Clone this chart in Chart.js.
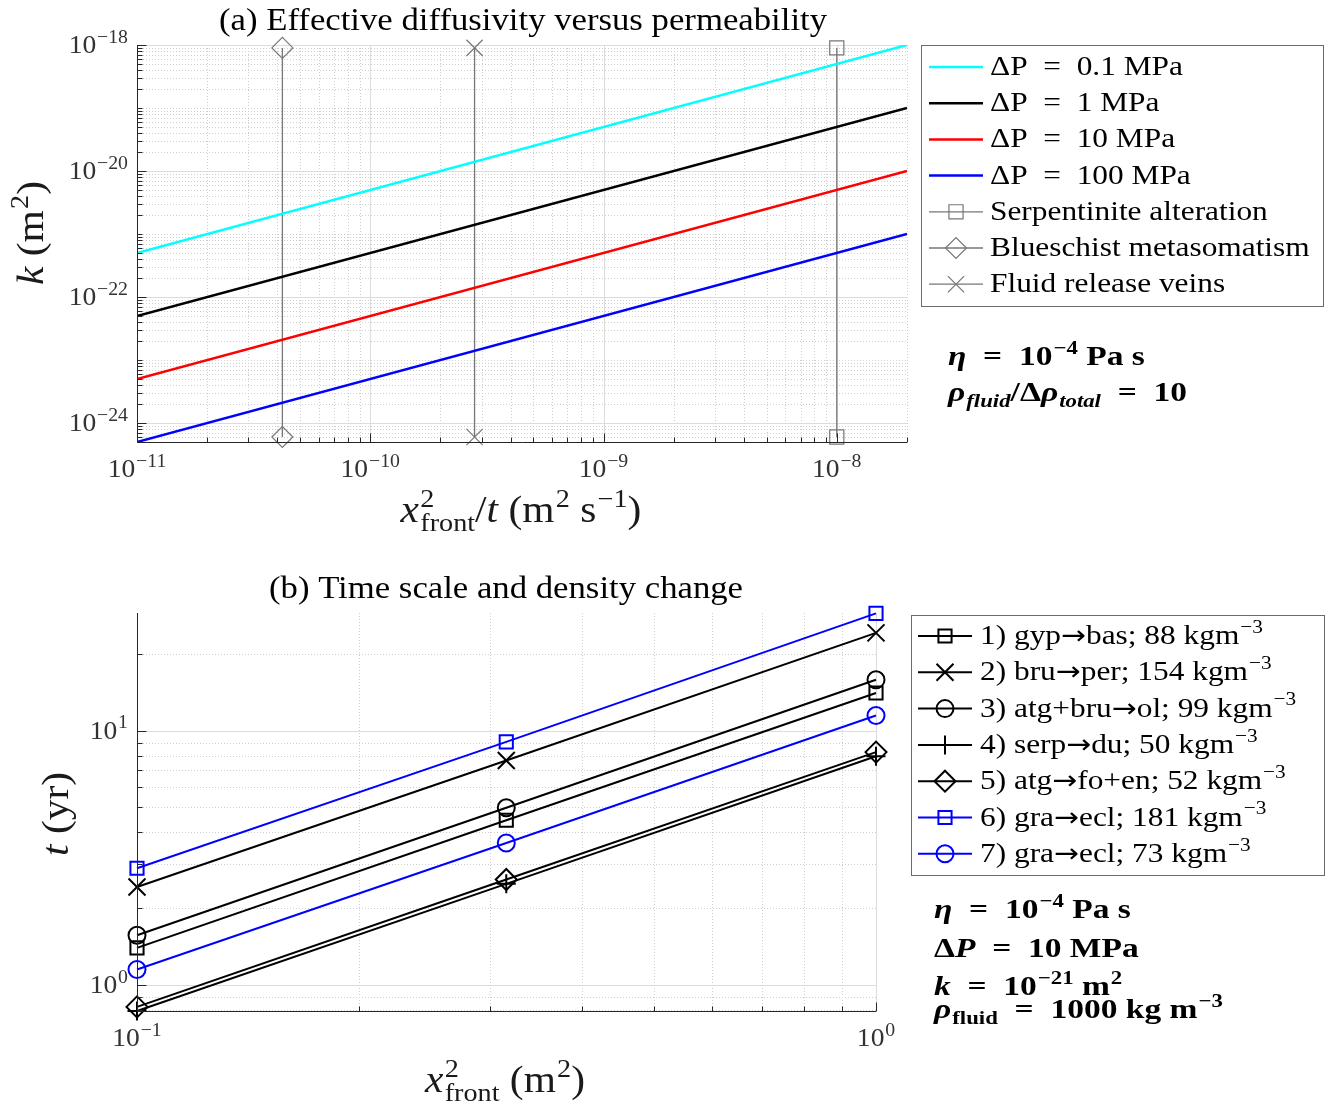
<!DOCTYPE html>
<html>
<head>
<meta charset="utf-8">
<title>Effective diffusivity and time scale</title>
<script src="https://cdn.jsdelivr.net/npm/chart.js@4.4.1/dist/chart.umd.min.js"></script>
<style>
  html, body { margin: 0; padding: 0; background: #fff; }
  #page { position: relative; width: 1328px; height: 1102px; overflow: hidden; }
  canvas { position: absolute; left: 0; }
</style>
</head>
<body>
<div id="page">
  <canvas id="diffusivityChart" width="1328" height="560" style="top:0"></canvas>
  <canvas id="timeChart" width="1328" height="542" style="top:560px"></canvas>
</div>
<script>
// ---- panel (a): permeability vs effective diffusivity ----
const diffusivity = [1e-11, 2e-8];          // x^2_front / t  (m^2 s^-1)
const kPoint1MPa = [5e-22, 1e-18];
const kOneMPa = [5e-23, 1e-19];
const kTenMPa = [5e-24, 1e-20];
const kHundredMPa = [5e-25, 1e-21];
const pressureLabels = ['ΔP  =  0.1 MPa', 'ΔP  =  1 MPa', 'ΔP  =  10 MPa', 'ΔP  =  100 MPa'];
const processLabels = ['Serpentinite alteration', 'Blueschist metasomatism', 'Fluid release veins'];
const processDiffusivity = [1e-8, 4.2e-11, 2.8e-10];
const processK = [9e-19, 6e-25];            // ends of the vertical marker lines
const aXTickValues = [1e-11, 1e-10, 1e-9, 1e-8];
const aXTickLabels = ['10^{−11}', '10^{−10}', '10^{−9}', '10^{−8}'];
const aYTickValues = [1e-24, 1e-22, 1e-20, 1e-18];
const aYTickLabels = ['10^{−24}', '10^{−22}', '10^{−20}', '10^{−18}'];

// ---- panel (b): time scale vs x^2_front ----
const frontSquared = [0.1, 0.316, 1];
const tGypBas = [1.40, 4.45, 14.1];
const tBruPer = [2.43, 7.65, 24.3];
const tAtgBruOl = [1.57, 4.98, 15.9];
const tSerpDu = [0.79, 2.50, 7.95];
const tAtgFoEn = [0.82, 2.60, 8.25];
const tGraEcl181 = [2.88, 9.05, 29.0];
const tGraEcl73 = [1.15, 3.62, 11.5];
const reactionLabels = [
  '1) gyp→bas; 88 kgm^{−3}',
  '2) bru→per; 154 kgm^{−3}',
  '3) atg+bru→ol; 99 kgm^{−3}',
  '4) serp→du; 50 kgm^{−3}',
  '5) atg→fo+en; 52 kgm^{−3}',
  '6) gra→ecl; 181 kgm^{−3}',
  '7) gra→ecl; 73 kgm^{−3}'
];
const bXTickValues = [0.1, 1];
const bXTickLabels = ['10^{−1}', '10^{0}'];
const bYTickValues = [1, 10];
const bYTickLabels = ['10^{0}', '10^{1}'];

const SERIF = '"Liberation Serif", "DejaVu Serif", serif';
const ARROW_FONT = '"DejaVu Sans", sans-serif';
const STRETCH = 1.12;

// tiny markup: $..$ italic, ^{..} superscript, _{..} subscript
function parseRich(str) {
  const out = [];
  let italic = false, buf = '', i = 0;
  const push = (t, kind) => { if (t) out.push({ t, kind, italic }); };
  while (i < str.length) {
    const c = str[i];
    if (c === '$') { push(buf, 'n'); buf = ''; italic = !italic; i++; }
    else if ((c === '^' || c === '_') && str[i + 1] === '{') {
      push(buf, 'n'); buf = '';
      const end = str.indexOf('}', i);
      push(str.slice(i + 2, end), c === '^' ? 'sup' : 'sub');
      i = end + 1;
    } else { buf += c; i++; }
  }
  push(buf, 'n');
  return out;
}

function drawRich(ctx, str, x, y, o) {
  const size = o.size, stretch = o.stretch || 1, weight = o.bold ? 'bold ' : '';
  const supScale = o.supScale || 0.68;
  const items = [];
  let cursor = 0, prev = 'n', scriptStart = 0;
  for (const p of parseRich(str)) {
    const s = p.kind === 'n' ? size : size * supScale;
    let px = cursor;
    if (p.kind !== 'n') {
      if (prev !== 'n' && prev !== p.kind) px = scriptStart;
      else scriptStart = cursor + size * 0.03;
      px = scriptStart;
    }
    const dy = p.kind === 'sup' ? -0.4 * size : p.kind === 'sub' ? 0.24 * size : 0;
    let end = px;
    p.t.split(/(→)/).forEach(piece => {
      if (!piece) return;
      const font = piece === '→'
        ? (s * 0.95).toFixed(1) + 'px ' + ARROW_FONT
        : (p.italic ? 'italic ' : '') + weight + s.toFixed(1) + 'px ' + SERIF;
      ctx.font = font;
      items.push({ t: piece, font, px: end, dy });
      end += ctx.measureText(piece).width;
    });
    cursor = Math.max(cursor, end);
    prev = p.kind;
  }
  const total = cursor * stretch;
  const x0 = o.align === 'center' ? x - total / 2 : o.align === 'right' ? x - total : x;
  ctx.save();
  ctx.translate(x0, y);
  ctx.scale(stretch, 1);
  ctx.fillStyle = o.color || '#000';
  ctx.textAlign = 'left';
  ctx.textBaseline = 'alphabetic';
  items.forEach(it => { ctx.font = it.font; ctx.fillText(it.t, it.px, it.dy); });
  ctx.restore();
  return total;
}

function logGrid(min, max) {
  const vals = [];
  for (let e = Math.floor(Math.log10(min)); e <= Math.ceil(Math.log10(max)); e++) {
    for (let m = 1; m <= 9; m++) {
      const v = m * Math.pow(10, e);
      if (v >= min * 0.9999 && v <= max * 1.0001) vals.push(v);
    }
  }
  return vals;
}
const isListed = (v, list) => list.some(t => Math.abs(v / t - 1) < 1e-6);

const tickFont = { size: 26, stretch: 1.06, supScale: 0.72, color: '#333' };

// grid, inward ticks, tick labels, titles, legend and notes drawn from the chart's scales
function panelDecor(p) {
  return {
    id: 'panelDecor',
    beforeDatasetsDraw(chart) {
      const { ctx, chartArea: a, scales: { x, y } } = chart;
      ctx.save();
      ctx.lineWidth = 1;
      logGrid(x.min, x.max).forEach(v => {
        const major = isListed(v, p.xTicks);
        const px = Math.round(x.getPixelForValue(v)) + 0.5;
        ctx.strokeStyle = major ? '#dcdcdc' : '#cfcfcf';
        ctx.setLineDash(major ? [] : [1, 2]);
        ctx.beginPath(); ctx.moveTo(px, a.top); ctx.lineTo(px, a.bottom); ctx.stroke();
      });
      logGrid(y.min, y.max).forEach(v => {
        const major = isListed(v, p.yTicks);
        const py = Math.round(y.getPixelForValue(v)) + 0.5;
        ctx.strokeStyle = major ? '#dcdcdc' : '#cfcfcf';
        ctx.setLineDash(major ? [] : [1, 2]);
        ctx.beginPath(); ctx.moveTo(a.left, py); ctx.lineTo(a.right, py); ctx.stroke();
      });
      ctx.restore();
    },
    afterDatasetsDraw(chart) {
      const { ctx, chartArea: a, scales: { x, y } } = chart;
      ctx.save();
      ctx.strokeStyle = '#262626';
      ctx.lineWidth = 1;
      const L = Math.round(a.left) + 0.5, B = Math.round(a.bottom) + 0.5;
      ctx.beginPath();
      ctx.moveTo(L, a.top); ctx.lineTo(L, B); ctx.lineTo(a.right, B);
      logGrid(x.min, x.max).forEach(v => {
        const px = Math.round(x.getPixelForValue(v)) + 0.5;
        ctx.moveTo(px, B); ctx.lineTo(px, B - (isListed(v, p.xTicks) ? 9 : 5));
      });
      logGrid(y.min, y.max).forEach(v => {
        const py = Math.round(y.getPixelForValue(v)) + 0.5;
        ctx.moveTo(L, py); ctx.lineTo(L + (isListed(v, p.yTicks) ? 9 : 5), py);
      });
      ctx.stroke();
      p.xTicks.forEach((v, i) => {
        drawRich(ctx, p.xLabels[i], x.getPixelForValue(v), a.bottom + 35, Object.assign({ align: 'center' }, tickFont));
      });
      p.yTicks.forEach((v, i) => {
        drawRich(ctx, p.yLabels[i], a.left - 9, y.getPixelForValue(v) + 8, Object.assign({ align: 'right' }, tickFont));
      });
      ctx.restore();
    },
    afterDraw(chart) {
      const ctx = chart.ctx;
      ctx.save();
      ctx.translate(0, -p.top);
      drawRich(ctx, p.title[0], p.title[1], p.title[2], { size: 31, align: 'center', stretch: STRETCH });
      drawRich(ctx, p.xTitle[0], p.xTitle[1], p.xTitle[2], { size: 37, align: 'center', stretch: STRETCH, color: '#1a1a1a' });
      ctx.save();
      ctx.translate(p.yTitle[1], p.yTitle[2]);
      ctx.rotate(-Math.PI / 2);
      drawRich(ctx, p.yTitle[0], 0, 0, { size: 37, align: 'center', stretch: STRETCH, color: '#1a1a1a' });
      ctx.restore();

      // legend
      const lg = p.legend;
      ctx.fillStyle = '#fff';
      ctx.fillRect(lg.x, lg.y, lg.w, lg.h);
      ctx.strokeStyle = '#6b6b6b';
      ctx.lineWidth = 1;
      ctx.strokeRect(lg.x + 0.5, lg.y + 0.5, lg.w, lg.h);
      chart.data.datasets.forEach((ds, i) => {
        const ry = lg.row0 + i * lg.step;
        ctx.strokeStyle = ds.borderColor;
        ctx.lineWidth = ds.borderWidth;
        ctx.beginPath(); ctx.moveTo(lg.lineX0, ry); ctx.lineTo(lg.lineX1, ry); ctx.stroke();
        if (ds.pointRadius > 0) {
          ctx.fillStyle = 'rgba(0,0,0,0)';
          ctx.lineWidth = ds.pointBorderWidth;
          Chart.helpers.drawPoint(ctx, { pointStyle: ds.pointStyle, radius: ds.pointRadius, rotation: 0, borderWidth: ds.pointBorderWidth }, (lg.lineX0 + lg.lineX1) / 2, ry);
        }
        drawRich(ctx, ds.label, lg.textX, ry + 8, { size: 28, stretch: STRETCH });
      });

      p.notes.forEach(n => drawRich(ctx, n[0], n[1], n[2], { size: 27, bold: true, stretch: 1.24 }));
      ctx.restore();
    }
  };
}

const logAxis = (min, max) => ({
  type: 'logarithmic', min, max,
  ticks: { display: false },
  grid: { display: false, drawTicks: false, tickLength: 0 },
  border: { display: false },
  title: { display: false }
});

// ---- chart (a) ----
const kSeries = [kPoint1MPa, kOneMPa, kTenMPa, kHundredMPa];
const pressureColors = ['#00ffff', '#000000', '#ff0000', '#0000ff'];
const processMarkers = [['rect', 10], ['rectRot', 10.5], ['crossRot', 11.5]];

const diffusivitySets = kSeries.map((ks, i) => ({
  label: pressureLabels[i],
  data: diffusivity.map((d, j) => ({ x: d, y: ks[j] })),
  borderColor: pressureColors[i],
  borderWidth: 2.5,
  pointRadius: 0
})).concat(processLabels.map((lab, i) => ({
  label: lab,
  data: processK.map(k => ({ x: processDiffusivity[i], y: k })),
  borderColor: '#777777',
  borderWidth: 1.3,
  pointStyle: processMarkers[i][0],
  pointRadius: processMarkers[i][1],
  pointBorderWidth: 1.2,
  pointBorderColor: '#777777',
  pointBackgroundColor: 'rgba(0,0,0,0)',
  clip: false
})));

new Chart(document.getElementById('diffusivityChart'), {
  type: 'line',
  data: { datasets: diffusivitySets },
  options: {
    responsive: false,
    animation: false,
    events: [],
    layout: { autoPadding: false, padding: { left: 137, right: 421, top: 45, bottom: 118 } },
    elements: { line: { tension: 0 } },
    plugins: { legend: { display: false }, tooltip: { enabled: false } },
    scales: { x: logAxis(1e-11, 2e-8), y: logAxis(5e-25, 1e-18) }
  },
  plugins: [panelDecor({
    top: 0,
    xTicks: aXTickValues, xLabels: aXTickLabels,
    yTicks: aYTickValues, yLabels: aYTickLabels,
    title: ['(a) Effective diffusivity versus permeability', 523, 30],
    xTitle: ['$x$^{2}_{front}/$t$ (m^{2} s^{−1})', 521, 522],
    yTitle: ['$k$ (m^{2})', 43, 233],
    legend: { x: 921, y: 45, w: 402, h: 261, row0: 67, step: 36.2, lineX0: 929, lineX1: 983, textX: 990 },
    notes: [['$η$  =  10^{−4} Pa s', 948, 365], ['$ρ_{fluid}$/Δ$ρ_{total}$  =  10', 948, 401]]
  })]
});

// ---- chart (b) ----
const tSeries = [tGypBas, tBruPer, tAtgBruOl, tSerpDu, tAtgFoEn, tGraEcl181, tGraEcl73];
const reactionStyles = [
  ['#000000', 'rect', 9.3], ['#000000', 'crossRot', 12], ['#000000', 'circle', 8.5],
  ['#000000', 'cross', 9.5], ['#000000', 'rectRot', 10.5],
  ['#0000ff', 'rect', 9.3], ['#0000ff', 'circle', 8.5]
];

const timeSets = tSeries.map((ts, i) => ({
  label: reactionLabels[i],
  data: frontSquared.map((f, j) => ({ x: f, y: ts[j] })),
  borderColor: reactionStyles[i][0],
  borderWidth: 2,
  pointStyle: reactionStyles[i][1],
  pointRadius: reactionStyles[i][2],
  pointBorderWidth: 2,
  pointBorderColor: reactionStyles[i][0],
  pointBackgroundColor: 'rgba(0,0,0,0)',
  clip: false
}));

new Chart(document.getElementById('timeChart'), {
  type: 'line',
  data: { datasets: timeSets },
  options: {
    responsive: false,
    animation: false,
    events: [],
    layout: { autoPadding: false, padding: { left: 137, right: 452, top: 53, bottom: 91 } },
    elements: { line: { tension: 0 } },
    plugins: { legend: { display: false }, tooltip: { enabled: false } },
    scales: { x: logAxis(0.1, 1), y: logAxis(0.79, 29.1) }
  },
  plugins: [panelDecor({
    top: 560,
    xTicks: bXTickValues, xLabels: bXTickLabels,
    yTicks: bYTickValues, yLabels: bYTickLabels,
    title: ['(b) Time scale and density change', 506, 598],
    xTitle: ['$x$^{2}_{front} (m^{2})', 505, 1092],
    yTitle: ['$t$ (yr)', 68, 814],
    legend: { x: 911, y: 615, w: 413, h: 260, row0: 636, step: 36.3, lineX0: 918, lineX1: 972, textX: 980 },
    notes: [
      ['$η$  =  10^{−4} Pa s', 934, 918],
      ['Δ$P$  =  10 MPa', 934, 957],
      ['$k$  =  10^{−21} m^{2}', 934, 995],
      ['$ρ$_{fluid}  =  1000 kg m^{−3}', 934, 1018]
    ]
  })]
});
</script>
</body>
</html>
